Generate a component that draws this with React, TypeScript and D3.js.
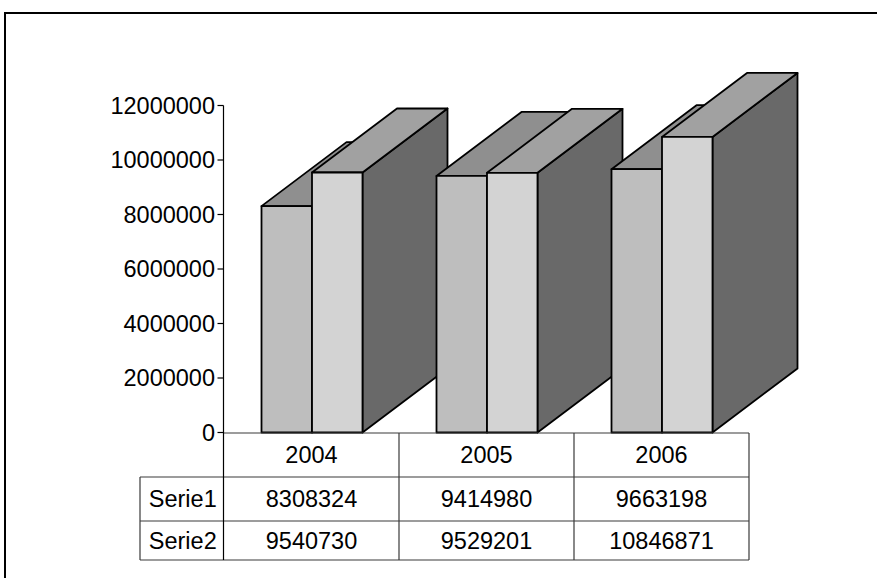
import React from "react";
import * as d3 from "d3";

const categories = ["2004", "2005", "2006"];
const seriesNames = ["Serie1", "Serie2"];
const serie1 = [8308324, 9414980, 9663198];
const serie2 = [9540730, 9529201, 10846871];
const yTicks = [0, 2000000, 4000000, 6000000, 8000000, 10000000, 12000000];

const W = 877;
const H = 578;
const FONT = "'Liberation Sans', Arial, sans-serif";

const faceColors = [
  { front: "#bebebe", top: "#8f8f8f", side: "#666666" },
  { front: "#d3d3d3", top: "#a1a1a1", side: "#696969" },
];

export default function App() {
  const values = [serie1, serie2];
  const y = d3.scaleLinear().domain([0, 12000000]).range([432.5, 105.5]);
  const x = d3.scaleBand().domain(categories).range([224, 749]);
  const inner = d3.scaleBand().domain(seriesNames).range([37.5, 138.5]);
  const dx = 85;
  const dy = -64;
  const y0 = y(0);

  const bars: React.ReactNode[] = [];
  categories.forEach((c, ci) => {
    seriesNames.forEach((s, si) => {
      const v = values[si][ci];
      const x0 = (x(c) as number) + (inner(s) as number);
      const x1 = x0 + inner.bandwidth();
      const yt = y(v);
      const col = faceColors[si];
      const front = `M${x0},${yt}L${x1},${yt}L${x1},${y0}L${x0},${y0}Z`;
      const top = `M${x0},${yt}L${x0 + dx},${yt + dy}L${x1 + dx},${yt + dy}L${x1},${yt}Z`;
      const side = `M${x1},${yt}L${x1 + dx},${yt + dy}L${x1 + dx},${y0 + dy}L${x1},${y0}Z`;
      bars.push(
        <g key={c + s} stroke="#000" strokeWidth={1.8} strokeLinejoin="round">
          <path d={side} fill={col.side} />
          <path d={top} fill={col.top} />
          <path d={front} fill={col.front} />
        </g>
      );
    });
  });

  const tableLeft = 140;
  const tableRight = 749;
  const axisX = 223.5;
  const rowLines = [433, 477, 521, 560];
  const lineColor = "#3a3a3a";
  const fs = 23.5;

  return (
    <svg
      width={W}
      height={H}
      style={{ position: "absolute", left: 0, top: 0, background: "#fff" }}
      fontFamily={FONT}
    >
      <rect x={5} y={13} width={W + 20} height={H + 20} fill="#fff" stroke="#000" strokeWidth={2} />
      {bars}
      {/* table lines */}
      <g stroke={lineColor} strokeWidth={1.2} fill="none">
        <line x1={axisX} x2={tableRight} y1={rowLines[0]} y2={rowLines[0]} />
        {rowLines.slice(1).map((ry) => (
          <line key={ry} x1={tableLeft} x2={tableRight} y1={ry} y2={ry} />
        ))}
        <line x1={tableLeft} x2={tableLeft} y1={rowLines[1]} y2={rowLines[3]} />
        {categories.slice(1).map((c) => (
          <line key={c} x1={x(c) as number} x2={x(c) as number} y1={rowLines[0]} y2={rowLines[3]} />
        ))}
        <line x1={tableRight} x2={tableRight} y1={rowLines[0]} y2={rowLines[3]} />
      </g>
      {/* axis */}
      <g stroke="#000" strokeWidth={1.2}>
        <line x1={axisX} x2={axisX} y1={y(12000000)} y2={rowLines[3]} />
        {yTicks.map((t) => (
          <line key={t} x1={axisX - 6} x2={axisX} y1={y(t)} y2={y(t)} />
        ))}
      </g>
      <g fontSize={fs} fill="#000" textAnchor="end">
        {yTicks.map((t) => (
          <text key={t} x={215} y={y(t)} dy="0.35em">
            {String(t)}
          </text>
        ))}
      </g>
      <g fontSize={fs} fill="#000" textAnchor="middle">
        {categories.map((c, ci) => {
          const cx = (x(c) as number) + x.bandwidth() / 2;
          return (
            <g key={c}>
              <text x={cx} y={(rowLines[0] + rowLines[1]) / 2} dy="0.35em">{c}</text>
              <text x={cx} y={(rowLines[1] + rowLines[2]) / 2} dy="0.35em">{String(serie1[ci])}</text>
              <text x={cx} y={(rowLines[2] + rowLines[3]) / 2} dy="0.35em">{String(serie2[ci])}</text>
            </g>
          );
        })}
        {seriesNames.map((s, si) => (
          <text key={s} x={(tableLeft + axisX) / 2 + 1} y={(rowLines[1 + si] + rowLines[2 + si]) / 2} dy="0.35em">
            {s}
          </text>
        ))}
      </g>
    </svg>
  );
}
